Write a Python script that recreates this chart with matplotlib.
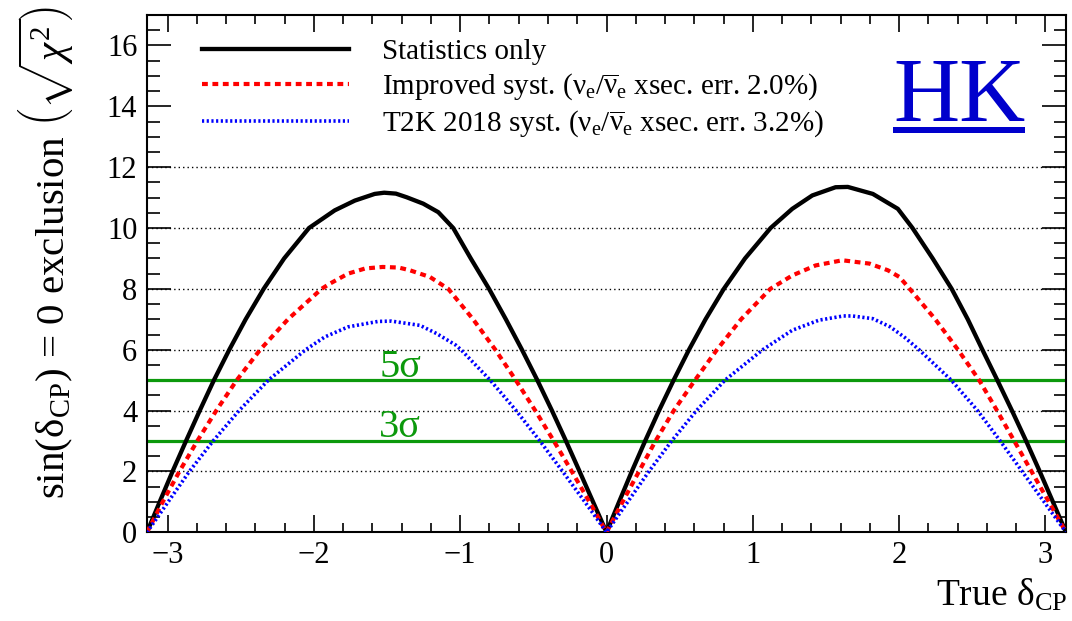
import numpy as np
import matplotlib
matplotlib.use("Agg")
import matplotlib.pyplot as plt
from matplotlib.ticker import MultipleLocator
from matplotlib.patches import Rectangle

plt.rcParams['font.family'] = ['Liberation Serif', 'DejaVu Serif']
plt.rcParams['mathtext.fontset'] = 'custom'
plt.rcParams['mathtext.rm'] = 'Liberation Serif'
plt.rcParams['mathtext.it'] = 'Liberation Serif:italic'
plt.rcParams['mathtext.bf'] = 'Liberation Serif:bold'

# ---------------- data ----------------
stat_x = [-3.1416, -3.055, -2.967, -2.875, -2.781, -2.684, -2.579, -2.467, -2.344, -2.204,
          -2.034, -1.858, -1.721, -1.585, -1.52, -1.44, -1.366, -1.253, -1.15, -1.048,
          -0.928, -0.803, -0.688, -0.578, -0.473, -0.373, -0.277, -0.184, -0.092, 0.0,
          0.086, 0.173, 0.264, 0.359, 0.459, 0.564, 0.677, 0.802, 0.947, 1.122, 1.27, 1.407,
          1.566, 1.65, 1.821, 1.992, 2.092, 2.23, 2.36, 2.47, 2.57, 2.672, 2.772, 2.869,
          2.962, 3.052, 3.1416]
stat_y = [0, 1, 2, 3, 4, 5, 6, 7, 8, 9, 10, 10.58, 10.9, 11.12, 11.16, 11.13, 11.01, 10.8,
          10.52, 10, 9, 8, 7, 6, 5, 4, 3, 2, 1, 0,
          1, 2, 3, 4, 5, 6, 7, 8, 9, 10, 10.63, 11.07, 11.34, 11.35, 11.12, 10.63, 10, 9, 8,
          7, 6, 5, 4, 3, 2, 1, 0]

impr_x = [-3.1416, -3.034, -2.92, -2.798, -2.668, -2.528, -2.368, -2.178, -1.948, -1.892,
          -1.767, -1.65, -1.53, -1.42, -1.344, -1.207, -1.082, -0.912, -0.76, -0.62,
          -0.487, -0.36, -0.237, -0.117, 0.0,
          0.11, 0.222, 0.335, 0.46, 0.605, 0.755, 0.92, 1.12, 1.27, 1.43, 1.612, 1.798,
          1.924, 2.003, 2.073, 2.248, 2.403, 2.548, 2.67, 2.788, 2.906, 3.024, 3.1416]
impr_y = [0, 1, 2, 3, 4, 5, 6, 7, 8, 8.17, 8.5, 8.67, 8.72, 8.7, 8.61, 8.39, 8, 7, 6, 5,
          4, 3, 2, 1, 0,
          1, 2, 3, 4, 5, 6, 7, 8, 8.44, 8.77, 8.94, 8.83, 8.61, 8.39, 8, 7, 6, 5, 4, 3, 2,
          1, 0]

t2k_x = [-3.1416, -2.997, -2.852, -2.69, -2.512, -2.312, -2.057, -1.926, -1.767, -1.562,
         -1.47, -1.275, -1.161, -1.03, -0.995, -0.795, -0.618, -0.455, -0.3, -0.148, 0.0,
         0.145, 0.29, 0.445, 0.615, 0.81, 1.068, 1.27, 1.452, 1.62, 1.68, 1.821, 1.94, 2.04,
         2.137, 2.357, 2.537, 2.692, 2.842, 2.992, 3.1416]
t2k_y = [0, 1, 2, 3, 4, 5, 6, 6.42, 6.75, 6.93, 6.94, 6.8, 6.53, 6.15, 6, 5, 4, 3, 2, 1, 0,
         1, 2, 3, 4, 5, 6, 6.64, 6.97, 7.11, 7.11, 7.02, 6.75, 6.4, 6, 5, 4, 3, 2, 1, 0]

sigma_levels = [5, 3]
sigma_labels = ["5σ", "3σ"]
grid_levels = [2, 4, 6, 8, 10, 12]

labels = ["Statistics only",
          r"Improved syst. (ν$_{\mathrm{e}}$/$\overline{\mathrm{\nu}}_{\mathrm{e}}$ xsec. err. 2.0%)",
          r"T2K 2018 syst. (ν$_{\mathrm{e}}$/$\overline{\mathrm{\nu}}_{\mathrm{e}}$ xsec. err. 3.2%)"]

# ---------------- figure ----------------
W, H = 1072, 621
fig = plt.figure(figsize=(W / 100, H / 100), dpi=100)
ax = fig.add_axes([147 / W, 1 - 532.3 / H, (1066 - 147) / W, (532.3 - 15) / H])

for g in grid_levels:
    ax.axhline(g, color='black', lw=1.0, ls=(0, (1, 2.2)), zorder=1)

green = '#0c990c'
for lev, lab in zip(sigma_levels, sigma_labels):
    ax.axhline(lev, color=green, lw=2.3, zorder=2)
    ax.text(-1.41, lev + 0.12, lab, color=green, fontsize=29, ha='center', va='baseline', zorder=3)

l1, = ax.plot(stat_x, stat_y, color='black', lw=3.1, zorder=4, label=labels[0])
l2, = ax.plot(impr_x, impr_y, color='#ff0000', lw=3.0, ls=(0, (1.4, 1.1)), zorder=5, label=labels[1])
l3, = ax.plot(t2k_x, t2k_y, color='#0000ff', lw=2.6, ls=(0, (0.6, 0.7)), zorder=6, label=labels[2])

ax.set_xlim(-np.pi, np.pi)
ax.set_ylim(0, 17)
ax.xaxis.set_major_locator(MultipleLocator(1))
ax.xaxis.set_minor_locator(MultipleLocator(0.2))
ax.yaxis.set_major_locator(MultipleLocator(2))
ax.yaxis.set_minor_locator(MultipleLocator(0.5))
ax.tick_params(axis='both', which='both', direction='in', top=True, right=True, width=1.2)
ax.tick_params(axis='y', which='major', length=17, labelsize=22, pad=7)
ax.tick_params(axis='y', which='minor', length=9)
ax.tick_params(axis='x', which='major', length=12, labelsize=22, pad=6)
ax.tick_params(axis='x', which='minor', length=6.5)
for s in ax.spines.values():
    s.set_linewidth(1.5)

leg = ax.legend(handles=[l1, l2, l3], loc='upper left', bbox_to_anchor=(0.053, 0.966),
                fontsize=21, frameon=True, facecolor='white', edgecolor='none', framealpha=1,
                handlelength=5.05, handletextpad=1.15, labelspacing=0.22, borderpad=0.2,
                borderaxespad=0, fancybox=False)
leg.set_zorder(7)

# HK logo
trans = ax.get_yaxis_transform()
ax.text((959 - 147) / 919, 13.53, "HK", color='#0000cc', fontsize=66, ha='center',
        va='baseline', zorder=8, transform=trans)
ax.add_patch(Rectangle(((893 - 147) / 919, (532.3 - 133.3) / 517.3), (1025 - 893) / 919,
                       6 / 517.3, transform=ax.transAxes, color='#0000cc', zorder=8, lw=0))

fig.text(46.5 / W, 1 - 252 / H, r"sin(δ$_{\mathrm{CP}}$) = 0 exclusion $\left(\sqrt{\chi^2}\right)$",
         rotation=90, ha='center', va='center', fontsize=29.5)
fig.text(1067 / W, 1 - 606 / H, r"True δ$_{\mathrm{CP}}$", ha='right', va='baseline', fontsize=27)

fig.savefig("out.png", dpi=100, facecolor='white')
